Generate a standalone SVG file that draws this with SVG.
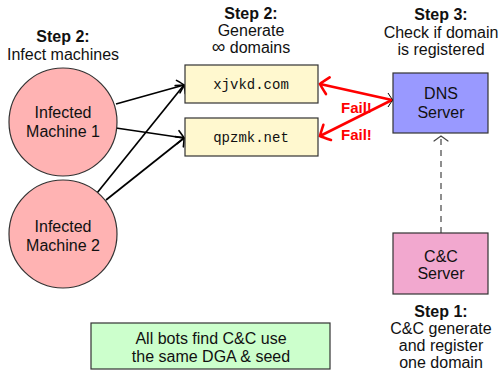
<svg xmlns="http://www.w3.org/2000/svg" width="501" height="374" viewBox="0 0 501 374">
  <style>
    text { font-family: "Liberation Sans", "DejaVu Sans", sans-serif; font-size: 16px; fill: #111; text-anchor: middle; }
    .b { font-weight: bold; }
    .mono { font-family: "Liberation Mono", "DejaVu Sans Mono", monospace; font-size: 14px; }
    .fail { fill: #ff0000; font-weight: bold; text-anchor: start; font-size: 15px; }
    .node { stroke: #333; stroke-width: 1.2; }
    .bot { fill: #ffb3b3; }
    .dom { fill: #fff8cf; }
    .dns { fill: #9999ff; }
    .cc { fill: #f2a8cf; }
    .note { fill: #ccffcc; }
    .edge { stroke: #000; stroke-width: 1.7; fill: none; }
    .fail-edge { stroke: #ff0000; stroke-width: 2.6; fill: none; }
    .dash { stroke: #444; stroke-width: 1.2; stroke-dasharray: 6 5; fill: none; }
  </style>
  <defs>
    <marker id="to" markerUnits="userSpaceOnUse" markerWidth="20" markerHeight="20" refX="0" refY="0" viewBox="-10 -10 20 20" orient="auto">
      <path d="M-6,-6.5 Q-1,-1.5 0,0 Q-1,1.5 -6,6.5" fill="none" stroke="#000" stroke-width="1.6" stroke-linecap="round"/>
    </marker>
    <marker id="to-red" markerUnits="userSpaceOnUse" markerWidth="24" markerHeight="24" refX="0" refY="0" viewBox="-12 -12 24 24" orient="auto">
      <path d="M-8,-8.5 Q-1.5,-2 0,0 Q-1.5,2 -8,8.5" fill="none" stroke="#ff0000" stroke-width="2.6" stroke-linecap="round"/>
    </marker>
    <marker id="to-gray" markerUnits="userSpaceOnUse" markerWidth="20" markerHeight="20" refX="0" refY="0" viewBox="-10 -10 20 20" orient="auto">
      <path d="M-5,-7 Q-1,-1.5 0,0 Q-1,1.5 -5,7" fill="none" stroke="#444" stroke-width="1.2" stroke-linecap="round"/>
    </marker>
  </defs>

  <!-- step captions -->
  <g id="captions">
    <text class="b" x="63" y="42">Step 2:</text>
    <text x="63" y="60">Infect machines</text>
    <text class="b" x="251" y="19">Step 2:</text>
    <text x="251" y="36">Generate</text>
    <text x="251" y="53"><tspan font-size="19">∞</tspan> domains</text>
    <text class="b" x="441" y="20">Step 3:</text>
    <text x="441" y="38">Check if domain</text>
    <text x="441" y="55">is registered</text>
    <text class="b" x="441" y="317">Step 1:</text>
    <text x="441" y="334">C&amp;C generate</text>
    <text x="441" y="351">and register</text>
    <text x="441" y="368">one domain</text>
  </g>

  <!-- connectors -->
  <g id="connectors">
    <line class="edge" x1="116" y1="104" x2="184" y2="85" marker-end="url(#to)"/>
    <line class="edge" x1="116" y1="128" x2="184" y2="138" marker-end="url(#to)"/>
    <line class="edge" x1="97" y1="193" x2="184" y2="85" marker-end="url(#to)"/>
    <line class="edge" x1="106" y1="200" x2="184" y2="138" marker-end="url(#to)"/>
    <line class="fail-edge" x1="392" y1="100" x2="320" y2="84" marker-end="url(#to-red)"/>
    <line class="fail-edge" x1="392" y1="100" x2="320" y2="136" marker-end="url(#to-red)"/>
    <path d="M388,93 Q391,98 393,100 Q391,102 388,107" fill="none" stroke="#000" stroke-width="1"/>
    <line class="dash" x1="441" y1="233" x2="441" y2="136" marker-end="url(#to-gray)"/>
    <text class="fail" x="341" y="113">Fail!</text>
    <text class="fail" x="341" y="140">Fail!</text>
  </g>

  <!-- infected machines -->
  <g id="bot1">
    <circle class="node bot" cx="63" cy="122" r="54"/>
    <text x="63" y="118">Infected</text>
    <text x="63" y="137">Machine 1</text>
  </g>
  <g id="bot2">
    <circle class="node bot" cx="63" cy="234" r="54"/>
    <text x="63" y="232">Infected</text>
    <text x="63" y="251">Machine 2</text>
  </g>

  <!-- generated domains -->
  <g id="domain1">
    <rect class="node dom" x="185" y="65" width="133" height="38"/>
    <text class="mono" x="251" y="89">xjvkd.com</text>
  </g>
  <g id="domain2">
    <rect class="node dom" x="185" y="118" width="133" height="38"/>
    <text class="mono" x="251" y="142">qpzmk.net</text>
  </g>

  <!-- servers -->
  <g id="dns">
    <rect class="node dns" x="393" y="73" width="95" height="60"/>
    <text x="441" y="99">DNS</text>
    <text x="441" y="118">Server</text>
  </g>
  <g id="cc">
    <rect class="node cc" x="393" y="233" width="95" height="61"/>
    <text x="441" y="262">C&amp;C</text>
    <text x="441" y="279">Server</text>
  </g>

  <!-- note -->
  <g id="note">
    <rect class="node note" x="91" y="323" width="239" height="46"/>
    <text x="211" y="344">All bots find C&amp;C use</text>
    <text x="211" y="362">the same DGA &amp; seed</text>
  </g>
</svg>
